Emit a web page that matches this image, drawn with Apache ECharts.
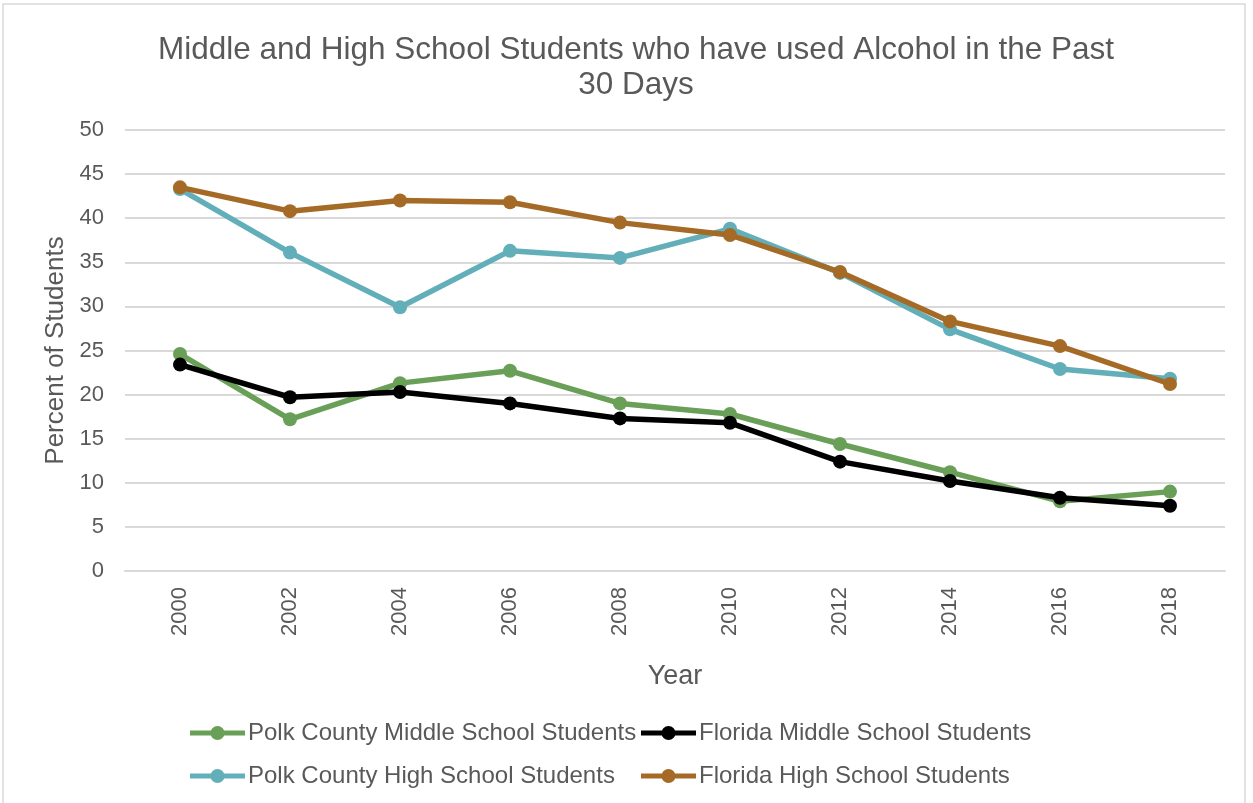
<!DOCTYPE html>
<html>
<head>
<meta charset="utf-8">
<script src="https://cdn.jsdelivr.net/npm/echarts@6/dist/echarts.min.js"></script>
<style>
  html, body { margin: 0; padding: 0; background: #fff; }
  #chart { width: 1253px; height: 803px; }
</style>
</head>
<body>
<div id="chart"></div>
<script>
// Survey years on the category axis
const years = ['2000', '2002', '2004', '2006', '2008', '2010', '2012', '2014', '2016', '2018'];

// Percent of students reporting alcohol use in the past 30 days
const polkMiddle    = [24.6, 17.2, 21.3, 22.7, 19.0, 17.8, 14.4, 11.2, 7.9, 9.0];
const floridaMiddle = [23.4, 19.7, 20.3, 19.0, 17.3, 16.8, 12.4, 10.2, 8.3, 7.4];
const polkHigh      = [43.3, 36.1, 29.9, 36.3, 35.5, 38.8, 33.8, 27.4, 22.9, 21.8];
const floridaHigh   = [43.5, 40.8, 42.0, 41.8, 39.5, 38.1, 33.9, 28.3, 25.5, 21.2];

const seriesNames = [
  'Polk County Middle School Students',
  'Florida Middle School Students',
  'Polk County High School Students',
  'Florida High School Students'
];
const seriesColors = ['#6a9f58', '#000000', '#63afb9', '#a56a26'];
const seriesData = [polkMiddle, floridaMiddle, polkHigh, floridaHigh];

const textColor = '#595959';
const fontFamily = '"Liberation Sans", Arial, sans-serif';

// Legend marker: a thick line segment on either side of a dot
const legendIcon = 'path://M0,4.5H22V9.5H0Z M33,4.5H55V9.5H33Z M20.5,7a7,7 0 1,1 14,0a7,7 0 1,1 -14,0Z';

const chart = echarts.init(document.getElementById('chart'));

const legendCommon = {
  orient: 'vertical',
  top: 716,
  itemWidth: 55,
  itemHeight: 14,
  itemGap: 19,
  icon: legendIcon,
  textStyle: { color: textColor, fontSize: 24, fontFamily: fontFamily, padding: [0, 0, 0, -2] }
};

chart.setOption({
  backgroundColor: '#ffffff',
  animation: false,
  graphic: [{
    type: 'rect',
    shape: { x: 3, y: 4, width: 1242, height: 810 },
    style: { fill: 'none', stroke: '#d9d9d9', lineWidth: 1.5 },
    silent: true
  }],
  title: {
    text: 'Middle and High School Students who have used Alcohol in the Past\n30 Days',
    left: 631,
    textAlign: 'center',
    top: 28,
    textStyle: {
      color: textColor,
      fontSize: 31.5,
      fontWeight: 'normal',
      fontFamily: fontFamily,
      lineHeight: 35
    }
  },
  legend: [
    Object.assign({ left: 185, data: [seriesNames[0], seriesNames[2]] }, legendCommon),
    Object.assign({ left: 636, data: [seriesNames[1], seriesNames[3]] }, legendCommon)
  ],
  grid: { left: 125, right: 28, top: 130, bottom: 232, containLabel: false },
  xAxis: {
    type: 'category',
    data: years,
    boundaryGap: true,
    name: 'Year',
    nameLocation: 'middle',
    nameGap: 92,
    nameTextStyle: { color: textColor, fontSize: 27, fontFamily: fontFamily },
    axisLine: { lineStyle: { color: '#d9d9d9', width: 2 } },
    axisTick: { show: false },
    axisLabel: { rotate: 90, margin: 16, color: textColor, fontSize: 22, fontFamily: fontFamily }
  },
  yAxis: {
    type: 'value',
    min: 0,
    max: 50,
    interval: 5,
    name: 'Percent of Students',
    nameLocation: 'middle',
    nameGap: 56,
    nameTextStyle: { color: textColor, fontSize: 26, fontFamily: fontFamily },
    axisLine: { show: false },
    axisTick: { show: false },
    splitLine: { lineStyle: { color: '#d9d9d9', width: 2 } },
    axisLabel: { margin: 21, color: textColor, fontSize: 22, fontFamily: fontFamily }
  },
  series: seriesNames.map((name, i) => ({
    name: name,
    type: 'line',
    data: seriesData[i],
    symbol: 'circle',
    symbolSize: 14,
    z: [2, 3, 2, 3][i],
    lineStyle: { color: seriesColors[i], width: 5.5 },
    itemStyle: { color: seriesColors[i] }
  }))
});
</script>
</body>
</html>
